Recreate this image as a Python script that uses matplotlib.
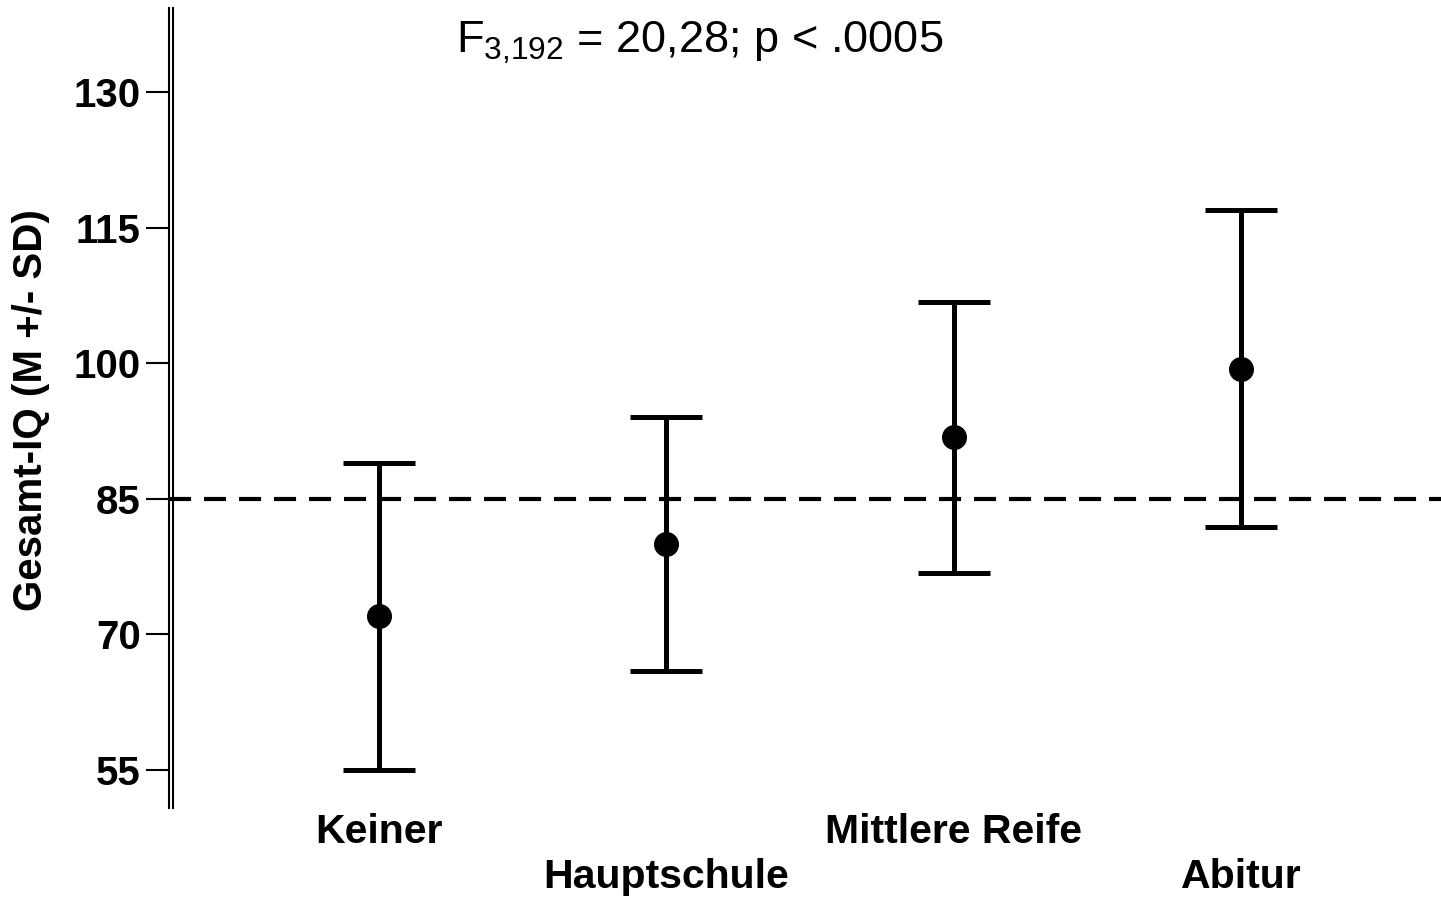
import numpy as np
import matplotlib
matplotlib.use("Agg")
import matplotlib.pyplot as plt
from matplotlib.lines import Line2D

plt.rcParams['font.family'] = ['Liberation Sans', 'DejaVu Sans']
plt.rcParams['mathtext.default'] = 'regular'

# data
groups = ['Keiner', 'Hauptschule', 'Mittlere Reife', 'Abitur']
means = [72.0, 80.0, 91.8, 99.4]
sds = [17.0, 14.0, 15.0, 17.5]
yticks = [55, 70, 85, 100, 115, 130]
cutoff = 85
title = 'F$_{3{,}192}$ = 20,28; p < .0005'
ylabel = 'Gesamt-IQ (M +/- SD)'

W, H, dpi = 1441, 898, 100
fig = plt.figure(figsize=(W / dpi, H / dpi), dpi=dpi)
ax = fig.add_axes([168.5 / W, 1 - 808 / H, 1 - 168.5 / W, 800 / H])

x = np.arange(len(groups))
ax.errorbar(x, means, yerr=sds, fmt='o', color='black', ms=17,
            elinewidth=3.6, capsize=26, capthick=3.6)
ax.axhline(cutoff, color='black', lw=3, ls=(0, (5.3, 3.1)), zorder=1)

ax.set_xlim(-0.733, 3.696)
ax.set_ylim(50.8, 139.3)
ax.set_yticks(yticks)
ax.set_yticklabels([str(t) for t in yticks], fontsize=29, fontweight='bold')
ax.tick_params(axis='y', length=16.5, width=1.5, pad=3.6)
ax.set_xticks([])

for s in ['top', 'right', 'bottom']:
    ax.spines[s].set_visible(False)
ax.spines['left'].set_linewidth(1.5)

# second line of the double spine
x2 = 172.5 / W
pos = ax.get_position()
fig.add_artist(Line2D([x2, x2], [pos.y0, pos.y1], transform=fig.transFigure,
                      color='black', lw=1.5))

# category labels in two staggered rows
for i, g in enumerate(groups):
    off = -24 if i % 2 == 0 else -69
    ax.annotate(g, xy=(x[i], 0), xycoords=('data', 'axes fraction'),
                xytext=(0, off * 72 / dpi), textcoords='offset points',
                ha='center', va='center', fontsize=29.5, fontweight='bold')

fig.text(31 / W, 1 - 410 / H, ylabel, rotation=90, ha='center', va='center',
         fontsize=29, fontweight='bold')

fig.text(700 / W, 1 - 53 / H, title, ha='center', va='baseline', fontsize=32.5)

fig.savefig('out.png', dpi=dpi)
